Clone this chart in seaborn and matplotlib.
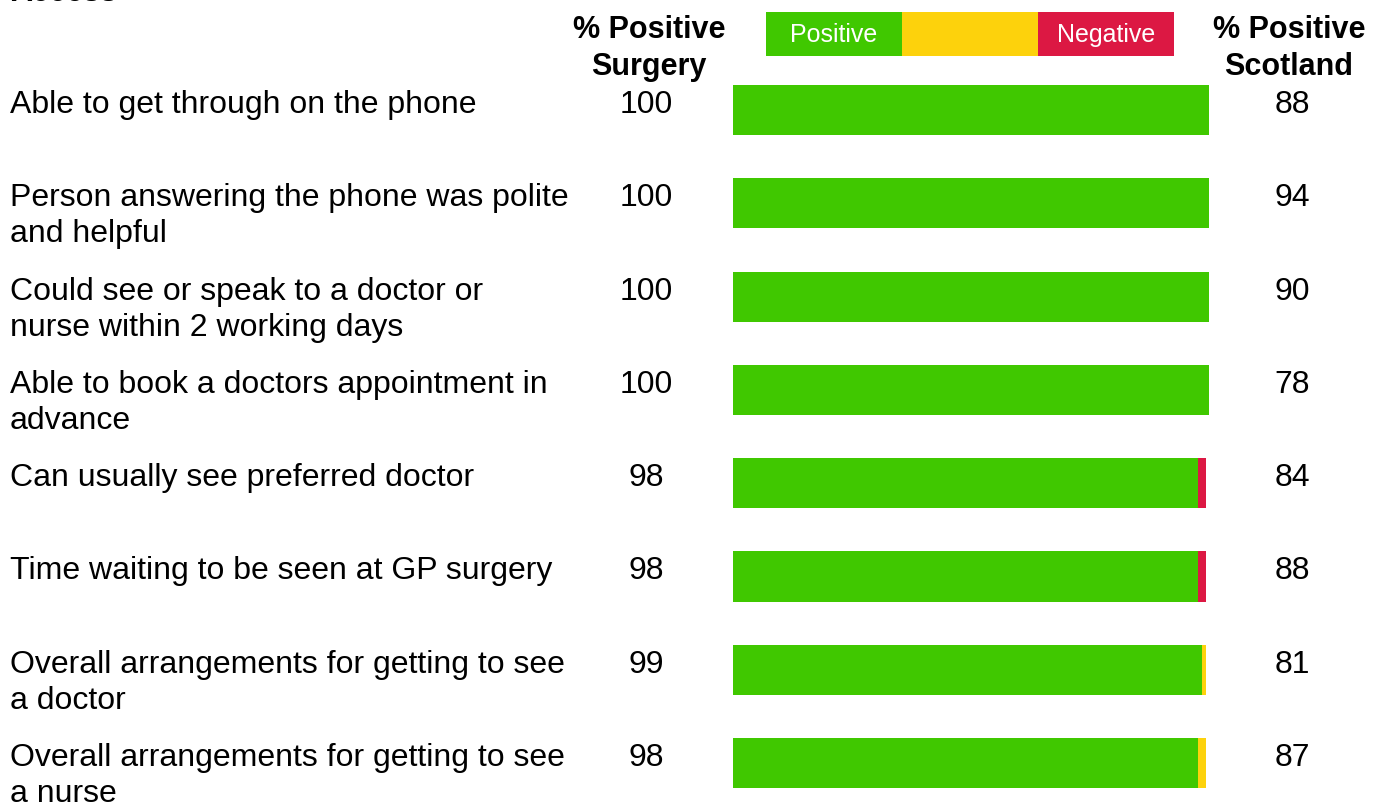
import matplotlib
matplotlib.use("Agg")
import matplotlib.pyplot as plt
import matplotlib.transforms as mtransforms
import seaborn as sns
import pandas as pd

# ---------------- data ----------------
title = "Access"
categories = [
    "Able to get through on the phone",
    "Person answering the phone was polite\nand helpful",
    "Could see or speak to a doctor or\nnurse within 2 working days",
    "Able to book a doctors appointment in\nadvance",
    "Can usually see preferred doctor",
    "Time waiting to be seen at GP surgery",
    "Overall arrangements for getting to see\na doctor",
    "Overall arrangements for getting to see\na nurse",
]
positive = [100, 100, 100, 100, 97.6, 97.6, 98.6, 97.6]
neutral = [0, 0, 0, 0, 0, 0, 0.8, 1.8]
negative = [0, 0, 0, 0, 1.8, 1.8, 0, 0]
surgery_pct = [100, 100, 100, 100, 98, 98, 99, 98]
scotland_pct = [88, 94, 90, 78, 84, 88, 81, 87]
legend_labels = ["Positive", "", "Negative"]
header_surgery = ["% Positive", "Surgery"]
header_scotland = ["% Positive", "Scotland"]

# ---------------- style ----------------
sns.set_style("white")
plt.rcParams["font.family"] = ["Liberation Sans", "DejaVu Sans"]
plt.rcParams["text.color"] = "black"

GREEN = "#40c800"
YELLOW = "#fdd20c"
RED = "#dc1843"

W, H = 1373, 803
fig = plt.figure(figsize=(W / 100, H / 100), dpi=100)

def fx(px):
    return px / W

def fy(py):
    return 1 - py / H

# main bar axes: x 733..1209 px, rows centred at 111 + 93.3*i
row0, step = 111.0, 93.3
top_px = row0 - step / 2
bot_px = row0 + step * 7.5
ax = fig.add_axes([fx(733), fy(bot_px), fx(1209) - fx(733), (bot_px - top_px) / H])

df = pd.DataFrame({"cat": categories, "pos": positive})
sns.barplot(data=df, x="pos", y="cat", orient="h", color=GREEN, width=0.536,
            saturation=1, ax=ax, linewidth=0)
ypos = list(range(len(categories)))
ax.barh(ypos, neutral, left=positive, color=YELLOW, height=0.536, linewidth=0)
left_neg = [p + n for p, n in zip(positive, neutral)]
ax.barh(ypos, negative, left=left_neg, color=RED, height=0.536, linewidth=0)
ax.set_xlim(0, 100)
ax.set_ylim(7.5, -0.5)
ax.axis("off")

trans = mtransforms.blended_transform_factory(fig.transFigure, ax.transData)
line_gap = 36 / step
base_off = 2 / step
for i, lab in enumerate(categories):
    for k, line in enumerate(lab.split("\n")):
        fig.text(fx(10), i + base_off + k * line_gap, line, transform=trans,
                 fontsize=23, va="baseline", ha="left", color="black")
    fig.text(fx(646), i + base_off, str(surgery_pct[i]), transform=trans,
             fontsize=23, va="baseline", ha="center", color="black")
    fig.text(fx(1292), i + base_off, str(scotland_pct[i]), transform=trans,
             fontsize=23, va="baseline", ha="center", color="black")

# headers
for k, line in enumerate(header_surgery):
    fig.text(fx(649), fy(38 + 37 * k), line, fontsize=22, fontweight="bold",
             ha="center", va="baseline", color="black")
for k, line in enumerate(header_scotland):
    fig.text(fx(1289), fy(38 + 37 * k), line, fontsize=22, fontweight="bold",
             ha="center", va="baseline", color="black")

# title (mostly cut off at top)
fig.text(fx(10), fy(1), title, fontsize=22, fontweight="bold", ha="left",
         va="baseline", color="black")

# legend bar
lax = fig.add_axes([fx(766), fy(57), fx(1174) - fx(766), 44 / H])
lax.barh([0, 0, 0], [1, 1, 1], left=[0, 1, 2], color=[GREEN, YELLOW, RED],
         height=1, linewidth=0)
lax.set_xlim(0, 3)
lax.set_ylim(-0.5, 0.5)
lax.axis("off")
for j, t in enumerate(legend_labels):
    if t:
        lax.text(j + 0.5, 0.0, t, color="white", fontsize=18, ha="center", va="center")

fig.savefig("out.png", dpi=100)
